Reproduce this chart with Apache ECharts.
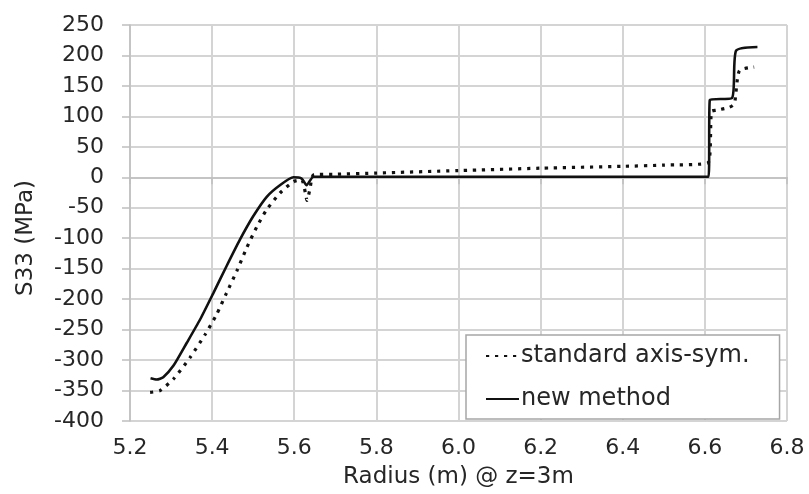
<!DOCTYPE html>
<html>
<head>
<meta charset="utf-8">
<script src="https://cdn.jsdelivr.net/npm/echarts@6/dist/echarts.min.js"></script>
<style>html,body{margin:0;padding:0;background:#fff;}#c{width:809px;height:494px;}</style>
</head>
<body>
<div id="c"></div>
<script>
// Data
const seriesNames = ['standard axis-sym.', 'new method'];
const xTicks = [5.2, 5.4, 5.6, 5.8, 6.0, 6.2, 6.4, 6.6, 6.8];
const yTicks = [-400, -350, -300, -250, -200, -150, -100, -50, 0, 50, 100, 150, 200, 250];

const stdR = [5.249, 5.273, 5.306, 5.346, 5.383, 5.411, 5.435, 5.46, 5.484, 5.509, 5.533, 5.565, 5.598, 5.618, 5.627, 5.631, 5.638, 5.647, 5.7, 5.8, 6.0, 6.2, 6.4, 6.5, 6.608, 6.616, 6.628, 6.66, 6.672, 6.684, 6.72];
const stdS = [-353, -350, -331, -296, -258, -225, -190, -154, -116, -81, -53, -26, -7, -4, -25, -38, -20, 4, 5, 7, 11, 15, 18, 20, 24, 108, 110, 115, 121, 175, 181];

const newR = [5.25, 5.265, 5.281, 5.306, 5.338, 5.371, 5.403, 5.435, 5.468, 5.5, 5.533, 5.565, 5.598, 5.618, 5.63, 5.647, 6.0, 6.3, 6.609, 6.612, 6.666, 6.676, 6.728];
const newS = [-330, -332, -328, -309, -272, -233, -190, -146, -102, -64, -32, -13, 0, -2, -13, 1, 1, 1, 1, 127, 130, 208, 214];

const pairs = (xs, ys) => xs.map((x, i) => [x, ys[i]]);
const txt = '#262626';
const FONT = 'DejaVu Sans';

const chart = echarts.init(document.getElementById('c'), null, {renderer: 'canvas'});
chart.setOption({
  animation: false,
  backgroundColor: '#fff',
  grid: {left: 130, right: 22, top: 25, bottom: 71},
  xAxis: {
    type: 'value', min: xTicks[0], max: xTicks[xTicks.length - 1], interval: 0.2,
    name: 'Radius (m) @ z=3m', nameLocation: 'middle', nameGap: 45,
    nameTextStyle: {color: txt, fontSize: 23, fontFamily: FONT},
    axisLine: {show: true, lineStyle: {color: '#bfbfbf', width: 1.5}},
    axisTick: {show: true, length: 7, lineStyle: {color: '#bfbfbf', width: 1.5}},
    axisLabel: {color: txt, fontSize: 22, fontFamily: FONT, margin: 16, formatter: v => v.toFixed(1)},
    splitLine: {show: true, lineStyle: {color: '#d4d4d4', width: 2}}
  },
  yAxis: {
    type: 'value', min: yTicks[0], max: yTicks[yTicks.length - 1], interval: 50,
    axisLine: {show: true, lineStyle: {color: '#bfbfbf', width: 1.5}},
    axisTick: {show: true, length: 8, lineStyle: {color: '#bfbfbf', width: 1.5}},
    axisLabel: {color: txt, fontSize: 22, fontFamily: FONT, margin: 26},
    splitLine: {show: true, lineStyle: {color: '#d4d4d4', width: 2}}
  },
  graphic: [{
    type: 'text', left: 15, top: 180, rotation: Math.PI / 2,
    style: {text: 'S33 (MPa)', fill: txt, font: '23px "DejaVu Sans"'}
  }],
  legend: {
    orient: 'vertical', left: 466, top: 335,
    padding: [9, 30, 8, 19], itemGap: 19,
    itemWidth: 33, itemHeight: 2,
    itemStyle: {opacity: 0},
    backgroundColor: '#fff', borderColor: '#a6a6a6', borderWidth: 1.5,
    textStyle: {color: txt, fontSize: 24, fontFamily: FONT, padding: [0, 0, 0, -3]},
    data: seriesNames
  },
  series: [
    {
      name: seriesNames[0], type: 'line', data: pairs(stdR, stdS), showSymbol: false, symbol: 'none',
      smooth: 0.2,
      lineStyle: {color: '#111', width: 3.2, type: [3.2, 5.8], cap: 'butt'}, itemStyle: {color: '#111'}, z: 3
    },
    {
      name: seriesNames[1], type: 'line', data: pairs(newR, newS), showSymbol: false, symbol: 'none',
      smooth: 0.2,
      lineStyle: {color: '#111', width: 2.6}, itemStyle: {color: '#111'}, z: 4
    }
  ]
});
</script>
</body>
</html>
